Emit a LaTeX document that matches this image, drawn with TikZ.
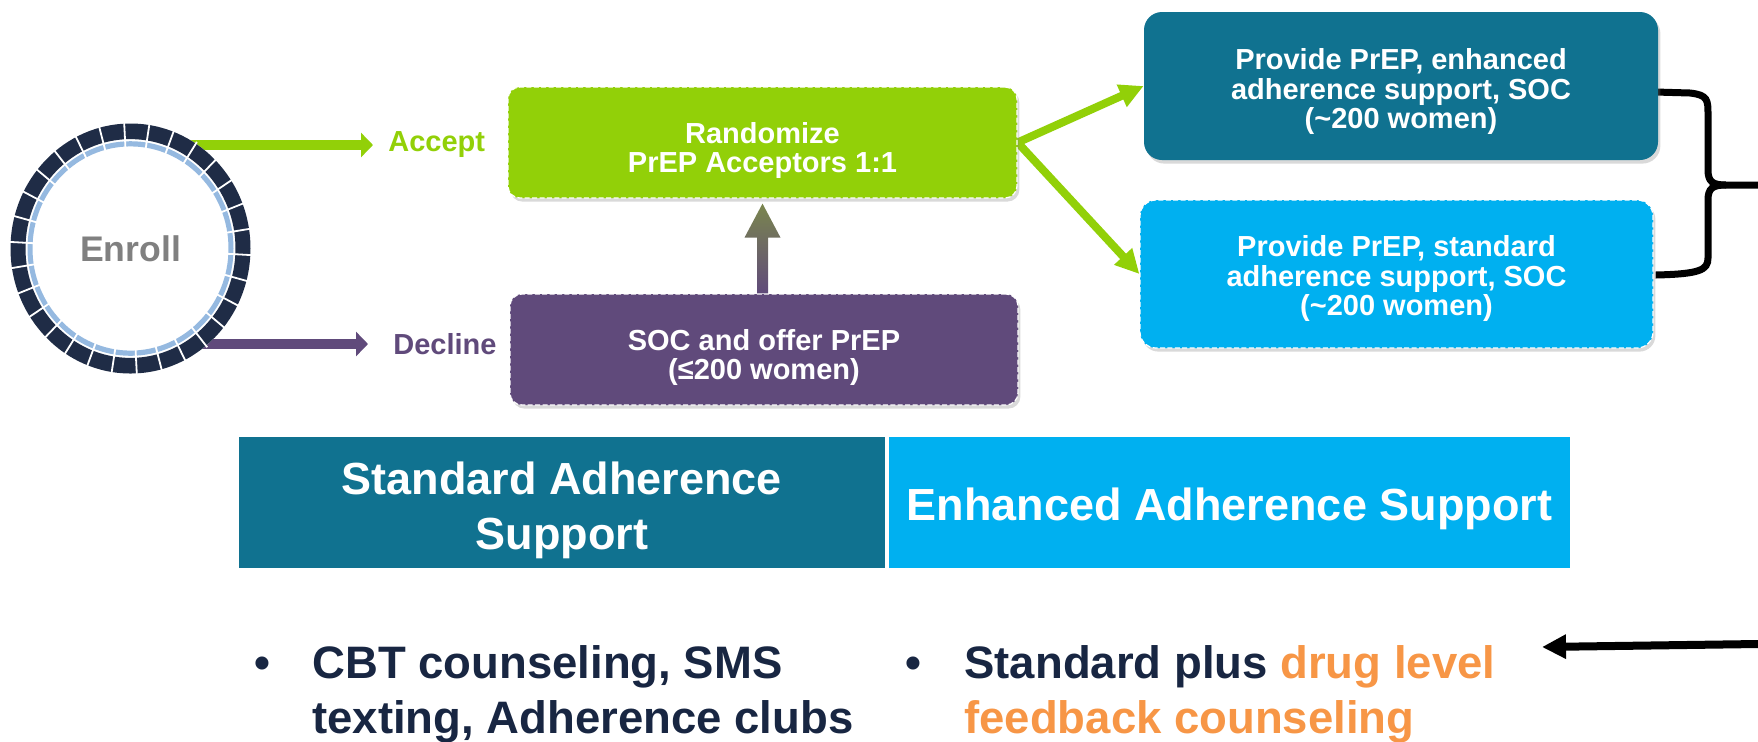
\documentclass[tikz,border=0pt]{standalone}
\usepackage{fontspec}
\setmainfont{Liberation Sans}
\usetikzlibrary{arrows.meta,calc,shadows}
\definecolor{pgreen}{RGB}{146,208,8}
\definecolor{ppurple}{RGB}{96,74,123}
\definecolor{pteal}{RGB}{16,114,144}
\definecolor{pblue}{RGB}{0,176,240}
\definecolor{pnavy}{RGB}{24,38,66}
\definecolor{porange}{RGB}{247,150,70}
\definecolor{ringdark}{RGB}{31,44,70}
\definecolor{ringlight}{RGB}{149,185,224}
\definecolor{tipolive}{RGB}{122,134,78}
\definecolor{enrollgray}{RGB}{128,128,128}
\newcommand{\topstrut}[1]{\rule{0pt}{#1}}
\pgfdeclarelayer{background}
\pgfsetlayers{background,main}
\begin{document}
\begin{tikzpicture}[x=0.5pt,y=-0.5pt,
  box/.style={rectangle, rounded corners=6pt, align=center, text=white, inner sep=0pt, text depth=0pt,
    font=\bfseries\fontsize{14.5pt}{14.75pt}\selectfont,
    drop shadow={shadow xshift=1.2pt, shadow yshift=-1.8pt, opacity=0.3}},
  dashbox/.style={box, draw=white, dash pattern=on 2.5pt off 1.2pt, line width=0.6pt},
  lbl/.style={inner sep=0pt, font=\bfseries\fontsize{14.5pt}{14.75pt}\selectfont},
  cell/.style={rectangle, inner sep=0pt, align=center, text=white, text depth=0pt,
    font=\bfseries\fontsize{22.5pt}{27.5pt}\selectfont},
  btxt/.style={inner sep=0pt, align=left, text=pnavy,
    font=\bfseries\fontsize{22.75pt}{27.5pt}\selectfont},
  bul/.style={inner sep=0pt, text=pnavy, font=\bfseries\fontsize{22.75pt}{27.5pt}\selectfont},
  flowarrow/.style={line width=5pt, -{Triangle[length=6pt,width=12pt]}},
  garrow/.style={pgreen, line width=4pt, -{Triangle[length=12pt,width=11.5pt]}},
  karrow/.style={black, line width=4pt, -{Triangle[length=12pt,width=11.5pt]}},
  bracestyle/.style={black, line width=3.5pt}
]
\useasboundingbox (0,0) rectangle (1758,741);

% Enroll ring
\coordinate (ec) at (130.5,248.5);
\begin{scope}[shift={(ec)}, yscale=1.0417]
  \fill[white] (0,0) circle (120);
  \fill[ringdark, even odd rule] (0,0) circle (120) (0,0) circle (105);
  \fill[ringlight, even odd rule] (0,0) circle (103) (0,0) circle (98);
  \foreach \a in {3,15,...,351} \draw[white, line width=0.9pt] (\a:96) -- (\a:122);
\end{scope}
\node[inner sep=0pt, text=enrollgray, font=\bfseries\fontsize{17.8pt}{18pt}\selectfont] (enroll) at (ec) {Enroll};

% labels
\node[lbl, text=pgreen, anchor=west] (acc) at (388,145) {Accept};
\node[lbl, text=ppurple, anchor=west] (dec) at (393,344) {Decline};

% boxes
\node[dashbox, fill=pgreen, minimum width=254.5pt, minimum height=55.5pt] (rand) at (762.5,142.5) {\topstrut{15.25pt}Randomize\\PrEP Acceptors 1:1};
\node[dashbox, fill=ppurple, minimum width=254pt, minimum height=55.5pt] (soc) at (764,349.5) {\topstrut{15.25pt}SOC and offer PrEP\\(≤200 women)};
\node[box, fill=pteal, rounded corners=9pt, minimum width=257pt, minimum height=74pt] (enh) at (1401,86) {\topstrut{13pt}Provide PrEP, enhanced\\adherence support, SOC\\(\textasciitilde200 women)};
\node[dashbox, fill=pblue, rounded corners=8pt, minimum width=256.5pt, minimum height=74pt] (std) at (1396.5,274) {\topstrut{12pt}Provide PrEP, standard\\adherence support, SOC\\(\textasciitilde200 women)};

% up arrow (shaded)
\shade[top color=tipolive, middle color=ppurple, bottom color=ppurple]
  ($(rand.south)+(0,5)$) -- ($(rand.south)+(18,39)$) -- ($(rand.south)+(5.5,39)$)
  -- ($(rand.south |- soc.north)+(5.5,0)$) -- ($(rand.south |- soc.north)+(-5.5,0)$)
  -- ($(rand.south)+(-5.5,39)$) -- ($(rand.south)+(-18,39)$) -- cycle;

% header cells
\node[cell, fill=pteal, minimum width=323pt, minimum height=65.5pt] (hstd) at (562,502.5) {\topstrut{19pt}Standard Adherence\\Support};
\node[cell, fill=pblue, minimum width=340.5pt, minimum height=65.5pt] (henh) at (1229.5,502.5) {\topstrut{17.5pt}Enhanced Adherence Support};

% bullets
\node[bul, anchor=base] (b1) at (262,678) {•};
\node[btxt, anchor=base west] (t1) at (312,733) {CBT counseling, SMS\\texting, Adherence clubs};
\node[bul, anchor=base] (b2) at (913,678) {•};
\node[btxt, anchor=base west] (t2) at (964,733) {Standard plus \textcolor{porange}{drug level}\\\textcolor{porange}{feedback counseling}};

% free arrow
\coordinate (aS) at (1758,644);
\coordinate (aE) at (1542,647);
\draw[karrow] (aS) -- (aE);

\begin{pgfonlayer}{background}
  \draw[flowarrow, pgreen] (ec |- acc.west) -- ($(acc.west)+(-15,0)$);
  \draw[flowarrow, ppurple] (ec |- dec.west) -- ($(dec.west)+(-25,0)$);
  \draw[garrow] (rand.east) -- (enh.west);
  \draw[garrow] (rand.east) -- (std.west);
  \draw[bracestyle] ($(enh.east)+(-3,6)$) -- (1690,93) .. controls (1708,95) and (1708,100) .. (1708,115)
     -- (1708,170) .. controls (1708,182) and (1713,185) .. (1726,185) -- (1758,185);
  \draw[bracestyle] (1726,185) .. controls (1713,185) and (1708,188) .. (1708,200)
     -- (1708,258) .. controls (1708,270) and (1700,274) .. ($(std.east)+(2,1)$);
\end{pgfonlayer}
\end{tikzpicture}
\end{document}
